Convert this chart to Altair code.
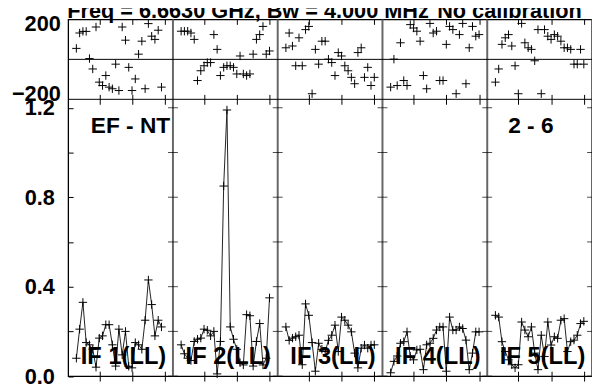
import altair as alt
import pandas as pd

FONT = "Liberation Sans"
NCHAN = 32
IF_LABELS = ["IF 1(LL)", "IF 2(LL)", "IF 3(LL)", "IF 4(LL)", "IF 5(LL)"]
FIRST_CHAN = [3, 3, 3, 3, 3]
TITLE_LEFT = "Freq = 6.6630 GHz, Bw = 4.000 MHz"
TITLE_RIGHT = "No calibration"
BASELINE_NAMES = "EF - NT"
BASELINE_NUMS = "2 - 6"

amp_if1 = [0.08, 0.21, 0.33, 0.15, 0.14, 0.12, 0.04, 0.17, 0.18, 0.23, 0.23, 0.14, 0.045, 0.21,
           0.095, 0.20, 0.044, 0.037, 0.15, 0.14, 0.12, 0.25, 0.43, 0.32, 0.18, 0.25, 0.22]
ph_if1 = [55, 132, 140, 140, 4, -48, 162, -114, -131, -81, -139, -147, -24, -156,
          162, 96, -40, -156, -98, 26, 91, -147, 179, 116, 100, 146, -139]
amp_if2 = [0.14, 0.10, 0.08, 0.07, 0.155, 0.165, 0.17, 0.21, 0.205, 0.18, 0.20, 0.01, 0.155, 0.85,
           1.19, 0.22, 0.165, 0.12, 0.06, 0.05, 0.275, 0.27, 0.045, 0.155, 0.235, 0.05, 0.08, 0.35]
ph_if2 = [141, 141, 141, 132, 100, -106, -57, -32, -16, -16, 124, 50, -81, -40,
          -32, -32, -40, -73, 17, -73, -81, -73, 26, 100, 124, 165, 26, 42]
amp_if3 = [0.22, 0.16, 0.17, 0.176, 0.183, 0.051, 0.323, 0.272, 0.15, 0.022, 0.147, 0.12, 0.11, 0.16,
           0.183, 0.228, 0.11, 0.264, 0.25, 0.228, 0.198, 0.103, 0.037, 0.125, 0.139, 0.125, 0.139, 0.14]
ph_if3 = [58, 132, 67, -32, 108, -32, 149, 165, -172, 50, -24, 91, 91, 1,
          -16, -81, 34, 17, -32, -57, -90, -122, 34, 58, -90, -40, -131, -90]
amp_if4 = [0.015, 0.066, 0.09, 0.147, 0.154, 0.198, 0.088, 0.073, 0.117, 0.12, 0.029, 0.14, 0.147, 0.169,
           0.206, 0.22, 0.22, 0.022, 0.264, 0.206, 0.206, 0.22, 0.213, 0.161, 0.029, 0.103, 0.198, 0.198]
ph_if4 = [-139, 1, -131, 83, -106, -131, 174, 157, 141, 91, -81, -147, 180, 132,
          141, -106, -106, 75, 165, 149, -172, 124, 180, -122, 58, 165, 116, 124]
amp_if5 = [0.272, 0.264, 0.154, 0.11, 0.073, 0.051, 0.037, 0.051, 0.242, 0.206, 0.176, 0.22, 0.103, 0.029,
           0.183, 0.088, 0.242, 0.139, 0.176, 0.169, 0.25, 0.257, 0.11, 0.154, 0.161, 0.183, 0.235, 0.245]
ph_if5 = [-114, -48, 75, 108, 124, 67, -32, -172, 180, 83, 58, 50, -7, 149,
          -172, 149, 116, 100, 124, 116, 91, 58, 58, 50, -24, -24, 50, -24]

AMPS = [amp_if1, amp_if2, amp_if3, amp_if4, amp_if5]
PHS = [ph_if1, ph_if2, ph_if3, ph_if4, ph_if5]
AMP_TICKS = [0.0, 0.2, 0.4, 0.6, 0.8, 1.0, 1.2]
CHAN_TICKS = [10, 20, 30]

rows = []
for k, (amps, phs) in enumerate(zip(AMPS, PHS)):
    for i, (a, p) in enumerate(zip(amps, phs)):
        c = FIRST_CHAN[k] + i
        rows.append({"IF": IF_LABELS[k], "g": k * NCHAN + c, "amp": a, "phase": p})
df = pd.DataFrame(rows)

nif = len(IF_LABELS)
sep_df = pd.DataFrame({"g": [k * NCHAN + 0.5 for k in range(1, nif + 1)]})
xticks = [k * NCHAN + t for k in range(nif) for t in CHAN_TICKS]
sep_tick_df = pd.DataFrame([{"g": k * NCHAN + 0.5, "amp": v}
                            for k in range(1, nif + 1) for v in AMP_TICKS])
hline_df = pd.DataFrame({"phase": [0, -200]})
if_lab_df = pd.DataFrame({"label": IF_LABELS,
                          "g": [k * NCHAN + 17.4 for k in range(nif)],
                          "amp": [0.056] * nif})
bl_df = pd.DataFrame({"label": [BASELINE_NAMES, BASELINE_NUMS], "g": [7.4, 134.9], "amp": [1.089, 1.089]})
title_df = pd.DataFrame({"label": [TITLE_LEFT, TITLE_RIGHT], "g": [0.2, 113.2], "phase": [205, 205]})

W, H = 531, 361.6
PH_H = 81
AMP_MAX = 1.2377

def xs():
    return alt.Scale(domain=[0.5, nif * NCHAN + 0.5], nice=False, zero=False)

def ps():
    return alt.Scale(domain=[-200, 200], range=[PH_H, 0], nice=False, zero=False)

def ams():
    return alt.Scale(domain=[0, AMP_MAX], range=[H, PH_H], nice=False, zero=False)

def xaxis(orient, size, offset):
    return alt.Axis(orient=orient, values=xticks, labels=False, domain=False, grid=False,
                    ticks=True, tickSize=size, offset=offset, tickColor="black", tickWidth=1, title=None)

CROSS = "M-1,0L1,0M0,-1L0,1"

phase_axis = alt.Axis(orient="left", values=[-200, 200], labelFont=FONT, labelFontSize=22,
                      labelFontWeight="bold", labelColor="black", labelFlush=True, labelFlushOffset=6,
                      ticks=False, tickSize=0, domain=False, grid=False, title=None, labelPadding=8)
amp_axis = alt.Axis(orient="left", values=AMP_TICKS, labelFont=FONT, labelFontSize=22,
                    labelFontWeight="bold", labelColor="black",
                    labelExpr="round(datum.value*10) % 4 == 0 ? format(datum.value, '.1f') : ''",
                    ticks=True, tickSize=5, offset=-5, tickColor="black", domain=False, grid=False,
                    title=None, labelPadding=14)

base = alt.Chart(df)

ph_pts = base.mark_point(shape=CROSS, size=72, filled=False, color="black", strokeWidth=1, opacity=1).encode(
    x=alt.X("g:Q", scale=xs(), axis=xaxis("top", 5, -5)),
    y=alt.Y("phase:Q", scale=ps(), axis=phase_axis))

amp_line = base.mark_line(color="#222", strokeWidth=1).encode(
    x=alt.X("g:Q", scale=xs(), axis=xaxis("top", 10, -86)),
    y=alt.Y("amp:Q", scale=ams(), axis=None),
    detail="IF:N")

amp_pts = base.mark_point(shape=CROSS, size=72, filled=False, color="black", strokeWidth=1, opacity=1).encode(
    x=alt.X("g:Q", scale=xs(), axis=xaxis("bottom", 10, -5)),
    y=alt.Y("amp:Q", scale=ams(), axis=amp_axis))

seps = alt.Chart(sep_df).mark_rule(color="#666", strokeWidth=2).encode(
    x=alt.X("g:Q", scale=xs(), axis=None))

hlines = alt.Chart(hline_df).mark_rule(color="black", strokeWidth=1).encode(
    y=alt.Y("phase:Q", scale=ps(), axis=None))

sep_ticks = alt.Chart(sep_tick_df).mark_tick(orient="horizontal", size=10, thickness=1, color="black").encode(
    x=alt.X("g:Q", scale=xs(), axis=None),
    y=alt.Y("amp:Q", scale=ams(), axis=None))

if_text = alt.Chart(if_lab_df).mark_text(font=FONT, fontSize=24, fontWeight="bold", color="black",
                                         align="center", baseline="alphabetic").encode(
    x=alt.X("g:Q", scale=xs(), axis=None),
    y=alt.Y("amp:Q", scale=ams(), axis=None),
    text="label:N")

bl_text = alt.Chart(bl_df).mark_text(font=FONT, fontSize=23, fontWeight="bold", color="black",
                                     align="left", baseline="alphabetic").encode(
    x=alt.X("g:Q", scale=xs(), axis=None),
    y=alt.Y("amp:Q", scale=ams(), axis=None),
    text="label:N")

title_text = alt.Chart(title_df).mark_text(font=FONT, fontSize=22, fontWeight="bold", color="black",
                                           align="left", baseline="alphabetic").encode(
    x=alt.X("g:Q", scale=xs(), axis=None),
    y=alt.Y("phase:Q", scale=ps(), axis=None),
    text="label:N")

chart = alt.layer(
    seps, hlines, sep_ticks, amp_line, amp_pts, ph_pts, if_text, bl_text, title_text
).resolve_scale(x="independent", y="independent").resolve_axis(x="independent", y="independent").properties(
    width=W, height=H,
    autosize=alt.AutoSizeParams(type="none"),
    padding={"left": 61, "top": 9, "right": 0, "bottom": 5.4},
    background="white",
).configure_view(stroke="black", strokeWidth=1.3)

chart.save("out.html", embed_options={"renderer": "svg", "actions": False})
